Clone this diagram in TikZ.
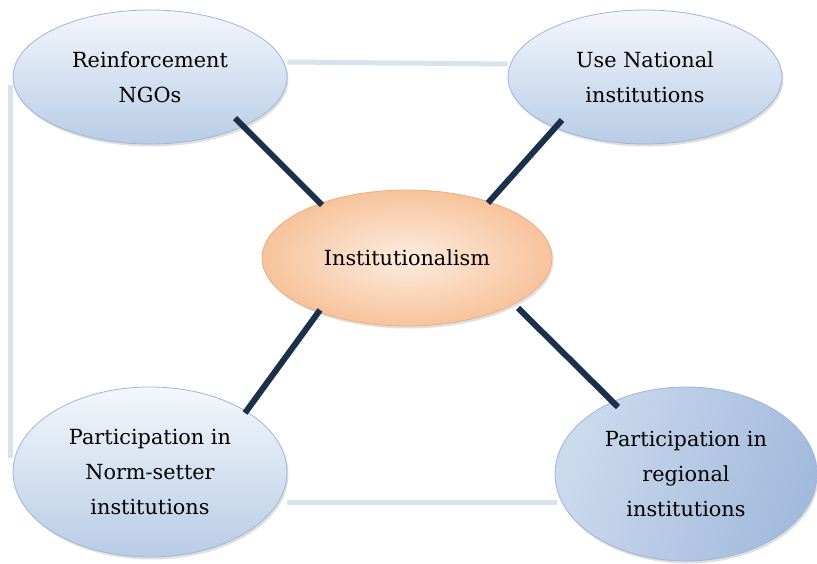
\documentclass[tikz,border=0pt]{standalone}
\usepackage{fontspec}
\setmainfont{DejaVu Serif}
\usepackage{xcolor}
\usepackage{tikz}
\usetikzlibrary{shapes,positioning,shadows}

\definecolor{navyline}{HTML}{1D304B}
\definecolor{paleline}{HTML}{D8E3F0}
\definecolor{bubedge}{HTML}{9DB6D9}
\definecolor{bubtop}{HTML}{F4F7FC}
\definecolor{bubbot}{HTML}{B8CCE5}
\definecolor{bubleft}{HTML}{CCDAEE}
\definecolor{bubmid}{HTML}{E9EFF8}
\definecolor{bubright}{HTML}{A2BADC}
\definecolor{coreedge}{HTML}{EDAF82}
\definecolor{corein}{HTML}{FDECDF}
\definecolor{coreout}{HTML}{F7C39C}

\begin{document}
\begin{tikzpicture}[x=1pt, y=-1pt,
    bubble/.style={ellipse, draw=bubedge, line width=0.8pt, inner sep=0pt,
        minimum width=274pt, minimum height=134pt, align=center,
        font=\fontsize{20.8}{35}\selectfont,
        drop shadow={opacity=0.25, shadow xshift=1.5pt, shadow yshift=-2.5pt}},
    bluebub/.style={bubble, top color=bubtop, bottom color=bubbot},
    corebub/.style={bubble, draw=coreedge, inner color=corein, outer color=coreout,
        minimum width=290pt, minimum height=136pt},
    spoke/.style={draw=navyline, line width=6pt},
    rim/.style={draw=paleline, line width=5pt}]

    \useasboundingbox (0,0) rectangle (817,564);

    \node[bluebub] (ngo) at (150,77) {Reinforcement\\NGOs};
    \node[bluebub] (nat) at (645,77) {Use National\\institutions};
    \node[corebub] (inst) at (407,258) {Institutionalism};
    \node[bluebub, minimum height=170pt] (norm) at (150,472) {Participation in\\Norm-setter\\institutions};
    \node[bubble, left color=bubleft, middle color=bubmid, right color=bubright,
        shading angle=70, minimum width=262pt, minimum height=174pt] (reg) at (686,474)
        {Participation in\\regional\\institutions};

    % outer frame
    \draw[rim] ([shift={(0,-15)}]ngo.east) -- ([shift={(0,-13)}]nat.west);
    \draw[rim] ([shift={(-2,8)}]ngo.west) -- ([shift={(-2,-14)}]norm.west);
    \draw[rim] ([shift={(0,30)}]norm.east) -- ([shift={(2,28)}]reg.west);

    % spokes to the centre
    \draw[spoke] ([shift={(85,41)}]ngo.center) -- ([shift={(-85,-53)}]inst.center);
    \draw[spoke] ([shift={(-83,43)}]nat.center) -- ([shift={(81,-55)}]inst.center);
    \draw[spoke] ([shift={(95,-59)}]norm.center) -- ([shift={(-87,52)}]inst.center);
    \draw[spoke] ([shift={(-68,-67)}]reg.center) -- ([shift={(111,50)}]inst.center);
\end{tikzpicture}
\end{document}
